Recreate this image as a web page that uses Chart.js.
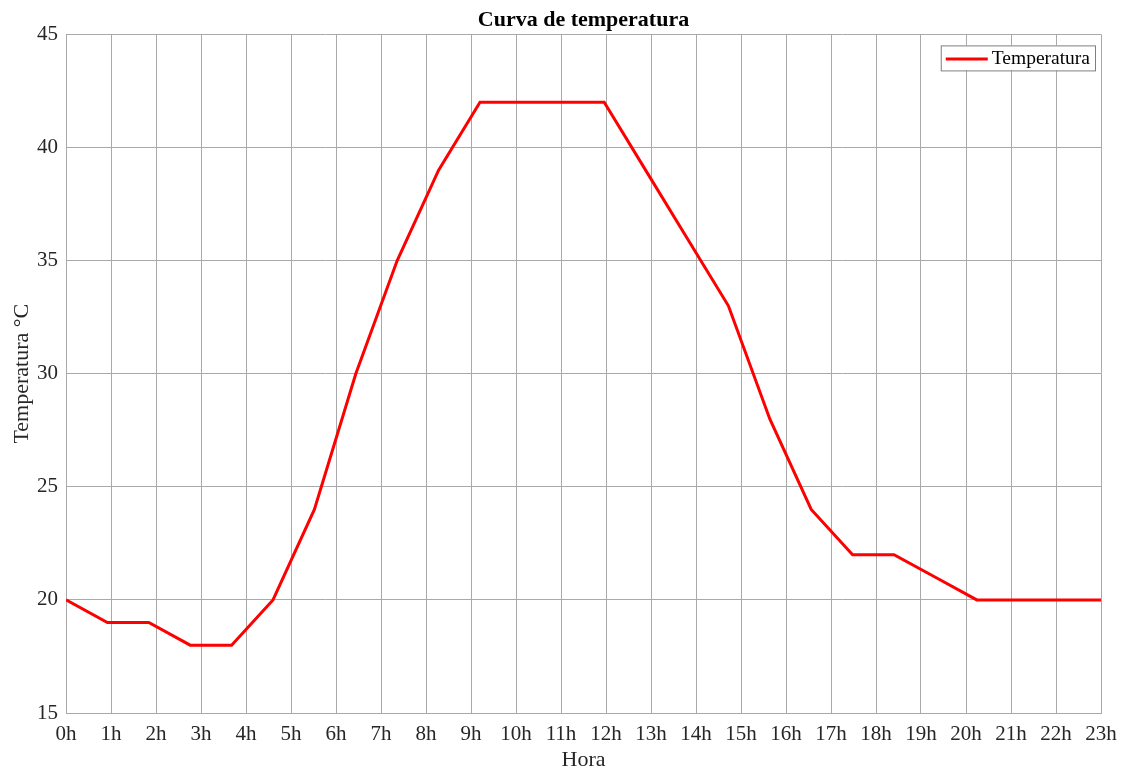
<!DOCTYPE html>
<html>
<head>
<meta charset="utf-8">
<style>
  html, body { margin: 0; padding: 0; background: #fff; }
  #wrap { width: 1126px; height: 773px; }
</style>
<script src="https://cdn.jsdelivr.net/npm/chart.js"></script>
</head>
<body>
<div id="wrap"><canvas id="tempChart" width="1126" height="773"></canvas></div>
<script>
  // sample index along the day and measured temperature
  const samples = [0, 1, 2, 3, 4, 5, 6, 7, 8, 9, 10, 11, 12, 13, 14, 15, 16, 17, 18, 19, 20, 21, 22, 23, 24, 25];
  const temperatura = [20, 19, 19, 18, 18, 20, 24, 30, 35, 39, 42, 42, 42, 42, 39, 36, 33, 28, 24, 22, 22, 21, 20, 20, 20, 20];
  const hourLabels = ['0h', '1h', '2h', '3h', '4h', '5h', '6h', '7h', '8h', '9h', '10h', '11h',
                      '12h', '13h', '14h', '15h', '16h', '17h', '18h', '19h', '20h', '21h', '22h', '23h'];
  const yTicks = [15, 20, 25, 30, 35, 40, 45];

  const SERIF = '"Liberation Serif", "Times New Roman", serif';
  const TEXT = '#262626';
  const GRID = '#a9a9a9';
  const xMax = samples[samples.length - 1];

  // center the title over the plot area instead of the whole canvas
  const titleOverPlot = {
    id: 'titleOverPlot',
    afterLayout(chart) {
      const t = chart.titleBlock;
      if (!t) return;
      t.left = chart.chartArea.left;
      t.right = chart.chartArea.right;
      t.width = t.right - t.left;
    }
  };

  // boxed legend in the upper right corner of the plot
  const boxLegend = {
    id: 'boxLegend',
    afterDraw(chart) {
      const { ctx, chartArea } = chart;
      const ds = chart.data.datasets[0];
      ctx.save();
      ctx.font = '19.5px ' + SERIF;
      const tw = ctx.measureText(ds.label).width;
      const w = 51 + tw + 5, h = 25;
      const x = chartArea.right - 6 - w, y = chartArea.top + 11;
      ctx.fillStyle = '#fff';
      ctx.fillRect(x, y, w, h);
      ctx.strokeStyle = '#7f7f7f';
      ctx.lineWidth = 1;
      ctx.strokeRect(x + 0.5, y + 0.5, w, h);
      ctx.strokeStyle = ds.borderColor;
      ctx.lineWidth = 3;
      ctx.beginPath();
      ctx.moveTo(x + 5, y + h / 2 + 1);
      ctx.lineTo(x + 47, y + h / 2 + 1);
      ctx.stroke();
      ctx.fillStyle = '#000';
      ctx.textBaseline = 'middle';
      ctx.fillText(ds.label, x + 51, y + h / 2 + 1);
      ctx.restore();
    }
  };

  new Chart(document.getElementById('tempChart'), {
    type: 'line',
    data: {
      datasets: [{
        label: 'Temperatura',
        data: samples.map((s, i) => ({ x: s, y: temperatura[i] })),
        borderColor: '#ff0000',
        borderWidth: 3,
        pointRadius: 0,
        tension: 0,
        fill: false
      }]
    },
    options: {
      responsive: false,
      animation: false,
      layout: { padding: { top: 0, right: 25, bottom: 0, left: 0 } },
      plugins: {
        legend: { display: false },
        tooltip: { enabled: false },
        title: {
          display: true,
          text: 'Curva de temperatura',
          color: '#000',
          font: { family: SERIF, size: 22, weight: 'bold' },
          padding: { top: 7, bottom: 1 }
        }
      },
      scales: {
        x: {
          type: 'linear',
          min: 0,
          max: xMax,
          afterBuildTicks: s => { s.ticks = hourLabels.map((_, k) => ({ value: k * xMax / (hourLabels.length - 1) })); },
          afterFit: s => { s.height = 60; },
          ticks: {
            autoSkip: false,
            maxRotation: 0,
            padding: 9,
            color: TEXT,
            font: { family: SERIF, size: 21 },
            callback: (v, i) => hourLabels[i]
          },
          grid: { color: GRID, drawTicks: false },
          border: { color: GRID },
          title: {
            display: true,
            text: 'Hora',
            color: TEXT,
            font: { family: SERIF, size: 22 },
            padding: { top: 4, bottom: 0 }
          }
        },
        y: {
          min: yTicks[0],
          max: yTicks[yTicks.length - 1],
          afterBuildTicks: s => { s.ticks = yTicks.map(v => ({ value: v })); },
          afterFit: s => { s.width = 66; },
          ticks: {
            padding: 8,
            color: TEXT,
            font: { family: SERIF, size: 21 }
          },
          grid: { color: GRID, drawTicks: false },
          border: { color: GRID },
          title: {
            display: true,
            text: 'Temperatura °C',
            color: TEXT,
            font: { family: SERIF, size: 22 },
            padding: { top: 9, bottom: 0 }
          }
        }
      }
    },
    plugins: [titleOverPlot, boxLegend]
  });
</script>
</body>
</html>
